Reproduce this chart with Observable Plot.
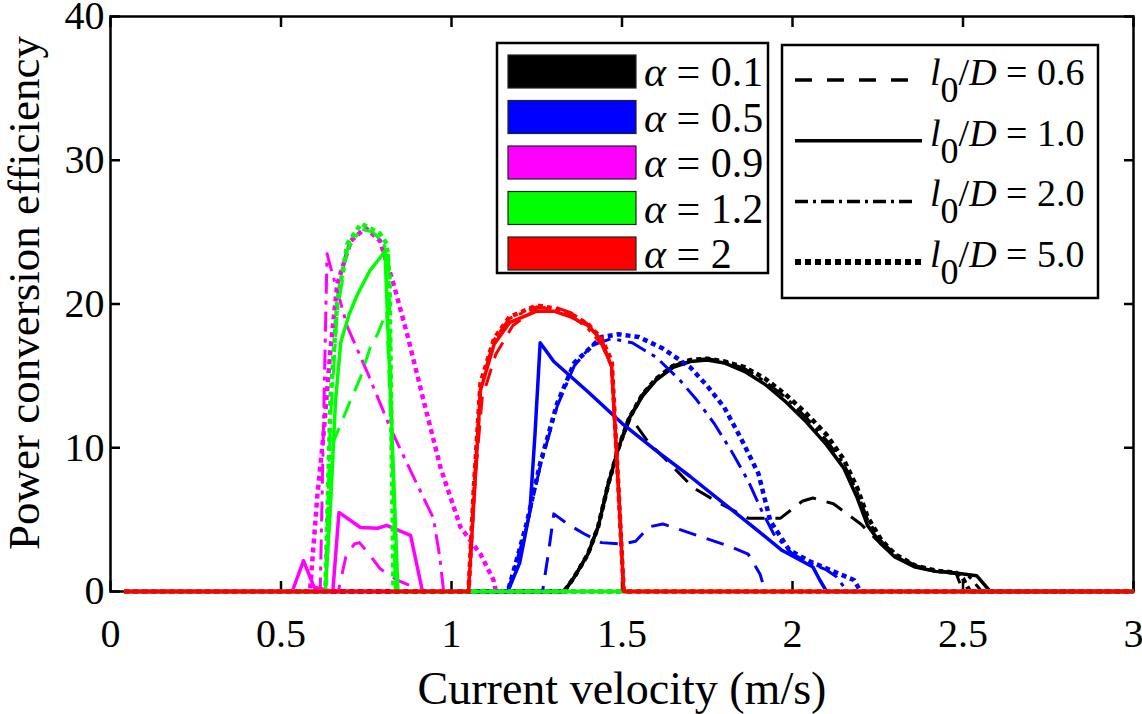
<!DOCTYPE html>
<html><head><meta charset="utf-8">
<script src="https://cdn.jsdelivr.net/npm/d3@7"></script>
<script src="https://cdn.jsdelivr.net/npm/@observablehq/plot@0.6"></script>
<style>body{margin:0;background:#fff}</style>
</head><body><div id="chart"></div>
<script>
// ---------- labels / ticks ----------
const xTicks = [0, 0.5, 1, 1.5, 2, 2.5, 3];
const xTickLabels = ["0", "0.5", "1", "1.5", "2", "2.5", "3"];
const yTicks = [0, 10, 20, 30, 40];
const alphaLabels = ["0.1", "0.5", "0.9", "1.2", "2"];
const alphaColors = ["#000000", "#0000ff", "#ff00ff", "#00ff00", "#ff0000"];
const ratioLabels = ["0.6", "1.0", "2.0", "5.0"];
const xLabel = "Current velocity (m/s)";
const yLabel = "Power conversion efficiency";

// ---------- series: [velocity, efficiency] ----------
// alpha = 0.1 (black)
const black_06 = [[0.04,0],[1.33,0],[1.36,1],[1.40,2.6],[1.43,4.5],[1.46,7.5],[1.49,10.0],[1.525,12.1],[1.58,10.3],[1.64,8.9],[1.71,7.2],[1.79,6.1],[1.87,5.1],[1.965,5.1],[2.03,6.3],[2.06,6.5],[2.12,6.1],[2.20,4.7],[2.26,3.3],[2.30,2.5],[2.36,1.7],[2.42,1.4],[2.48,1.25],[2.50,0],[3.0,0]];
const black_10 = [[0.04,0],[1.33,0],[1.36,1],[1.40,2.6],[1.43,4.5],[1.46,7.5],[1.49,10.0],[1.52,12.0],[1.56,13.6],[1.60,14.7],[1.65,15.6],[1.70,16.0],[1.75,16.1],[1.80,15.9],[1.86,15.3],[1.92,14.4],[1.98,13.2],[2.04,11.8],[2.10,10.2],[2.15,8.6],[2.19,6.5],[2.22,4.6],[2.26,3.3],[2.30,2.4],[2.36,1.7],[2.42,1.4],[2.49,1.25],[2.54,1.1],[2.58,0],[3.0,0]];
const black_20 = [[0.04,0],[1.33,0],[1.36,1],[1.40,2.6],[1.43,4.5],[1.46,7.5],[1.49,10.0],[1.52,12.0],[1.56,13.7],[1.60,14.8],[1.65,15.7],[1.70,16.1],[1.75,16.2],[1.80,16.0],[1.86,15.5],[1.92,14.6],[1.98,13.5],[2.04,12.1],[2.10,10.5],[2.15,8.9],[2.19,6.9],[2.22,5.0],[2.26,3.5],[2.30,2.6],[2.36,1.8],[2.42,1.45],[2.48,1.3],[2.52,1.0],[2.555,0],[3.0,0]];
const black_50 = [[0.04,0],[1.33,0],[1.36,1],[1.40,2.6],[1.43,4.5],[1.46,7.5],[1.49,10.0],[1.52,12.0],[1.56,13.7],[1.60,14.8],[1.65,15.7],[1.70,16.1],[1.75,16.2],[1.80,16.0],[1.86,15.6],[1.92,14.8],[1.98,13.7],[2.04,12.4],[2.10,10.9],[2.15,9.2],[2.19,7.2],[2.22,5.2],[2.26,3.6],[2.30,2.6],[2.36,1.8],[2.42,1.45],[2.48,1.3],[2.50,0.9],[2.52,0],[3.0,0]];
// alpha = 0.5 (blue)
const blue_06 = [[0.04,0],[1.267,0],[1.285,2.8],[1.30,5.4],[1.34,4.7],[1.39,4.0],[1.44,3.4],[1.50,3.3],[1.54,3.5],[1.58,4.5],[1.62,4.7],[1.67,4.3],[1.72,3.9],[1.77,3.5],[1.82,3.1],[1.87,2.6],[1.89,1.8],[1.905,1.2],[1.92,0],[3.0,0]];
const blue_10 = [[0.04,0],[1.165,0],[1.20,2.0],[1.23,5.6],[1.245,11],[1.26,17.3],[1.30,16.0],[1.40,13.9],[1.50,11.7],[1.60,9.8],[1.70,8.0],[1.80,6.1],[1.90,4.2],[1.97,2.85],[2.06,1.7],[2.08,0.8],[2.10,0],[3.0,0]];
const blue_20 = [[0.04,0],[1.165,0],[1.19,2.0],[1.22,4.5],[1.26,8.7],[1.31,12.9],[1.36,15.7],[1.41,17.1],[1.47,17.6],[1.53,17.3],[1.60,16.3],[1.67,14.7],[1.72,13.3],[1.77,11.7],[1.82,9.8],[1.87,7.7],[1.91,5.6],[1.945,4.0],[2.0,2.6],[2.05,2.0],[2.10,1.5],[2.13,1.0],[2.16,0],[3.0,0]];
const blue_50 = [[0.04,0],[1.165,0],[1.19,2.1],[1.22,4.7],[1.26,8.9],[1.31,13.1],[1.36,15.9],[1.44,17.7],[1.49,17.9],[1.55,17.7],[1.62,16.9],[1.70,15.6],[1.75,14.3],[1.80,12.8],[1.85,10.6],[1.90,8.2],[1.935,4.9],[1.99,2.9],[2.05,2.1],[2.11,1.5],[2.15,1.1],[2.18,0.8],[2.20,0],[3.0,0]];
// alpha = 0.9 (magenta)
const magenta_06 = [[0.04,0],[0.668,0],[0.69,2.4],[0.715,3.3],[0.73,3.4],[0.755,2.7],[0.79,1.6],[0.84,0.8],[0.90,0.2],[0.93,0],[3.0,0]];
const magenta_10 = [[0.04,0],[0.533,0],[0.566,2.15],[0.597,0.3],[0.652,0],[0.67,5.5],[0.733,4.45],[0.783,4.4],[0.81,4.6],[0.88,3.9],[0.915,0],[3.0,0]];
const magenta_20 = [[0.04,0],[0.615,0],[0.625,12],[0.635,23.5],[0.645,22.6],[0.695,18.4],[0.754,15.2],[0.82,11.4],[0.89,7.9],[0.947,5.1],[0.965,2.5],[0.977,0],[3.0,0]];
const magenta_50 = [[0.04,0],[0.585,0],[0.607,6.8],[0.625,11],[0.645,16.8],[0.665,21.4],[0.705,24.4],[0.748,25.3],[0.79,24.4],[0.83,21.4],[0.87,17.9],[0.918,13.3],[0.968,8.6],[1.026,4.5],[1.085,2.6],[1.123,0.8],[1.13,0],[3.0,0]];
// alpha = 1.2 (green)
const green_06 = [[0.04,0],[0.63,0],[0.64,4],[0.655,10.5],[0.704,13.3],[0.733,14.9],[0.762,17.0],[0.783,17.9],[0.81,19.5],[0.84,0],[3.0,0]];
const green_10 = [[0.04,0],[0.63,0],[0.645,6],[0.66,13.3],[0.675,17.3],[0.70,19.3],[0.725,20.7],[0.76,22.3],[0.79,23.2],[0.805,23.7],[0.843,0],[3.0,0]];
const green_20 = [[0.04,0],[0.63,0],[0.645,12],[0.665,19.5],[0.695,23.8],[0.735,25.2],[0.77,25.0],[0.80,24.2],[0.815,23.5],[0.835,0],[3.0,0]];
const green_50 = [[0.04,0],[0.63,0],[0.645,13.3],[0.665,20.2],[0.695,24.2],[0.735,25.6],[0.79,24.9],[0.81,24.2],[0.818,22],[0.83,0],[3.0,0]];
// alpha = 2 (red)
const red_06 = [[0.04,0],[1.05,0],[1.07,8],[1.09,13.5],[1.13,16.5],[1.18,18.5],[1.25,19.7],[1.30,19.8],[1.35,19.4],[1.40,18.6],[1.44,17.4],[1.47,15.5],[1.49,7],[1.505,0],[3.0,0]];
const red_10 = [[0.04,0],[1.05,0],[1.065,6],[1.085,14.0],[1.125,17.2],[1.17,18.7],[1.25,19.5],[1.30,19.5],[1.35,19.1],[1.40,18.5],[1.44,17.5],[1.47,15.6],[1.49,7],[1.505,0],[3.0,0]];
const red_20 = [[0.04,0],[1.05,0],[1.065,7],[1.085,14.3],[1.125,17.5],[1.17,19.0],[1.25,19.8],[1.30,19.6],[1.35,19.2],[1.40,18.3],[1.44,17.2],[1.47,15.6],[1.49,7],[1.505,0],[3.0,0]];
const red_50 = [[0.04,0],[1.05,0],[1.065,7],[1.085,14.5],[1.125,17.6],[1.17,19.1],[1.25,19.9],[1.30,19.7],[1.35,19.3],[1.40,18.6],[1.44,17.6],[1.47,16.0],[1.49,7],[1.505,0],[3.0,0]];

// ---------- styles ----------
const ratioDash = ["18,11", null, "20,7,4,7", "5,4"];
const ratioWidth = [3, 3.5, 3, 4.5];

const seriesList = [
  [0, 1, black_10], [0, 0, black_06], [0, 2, black_20], [0, 3, black_50],
  [1, 1, blue_10], [1, 0, blue_06], [1, 2, blue_20], [1, 3, blue_50],
  [2, 1, magenta_10], [2, 0, magenta_06], [2, 2, magenta_20], [2, 3, magenta_50],
  [3, 1, green_10], [3, 0, green_06], [3, 2, green_20], [3, 3, green_50],
  [4, 0, red_06], [4, 2, red_20], [4, 3, red_50], [4, 1, red_10]
];

const lineMarks = seriesList.map(([a, r, data]) => Plot.line(data, {
  x: d => d[0], y: d => d[1],
  stroke: alphaColors[a],
  strokeWidth: ratioWidth[r],
  strokeDasharray: ratioDash[r] ?? undefined,
  strokeLinecap: "butt",
  strokeLinejoin: "round"
}));

const FONT = "'Liberation Serif', 'Times New Roman', serif";
const chart = Plot.plot({
  width: 1142, height: 714,
  marginLeft: 110, marginRight: 9, marginTop: 16, marginBottom: 123,
  style: {fontFamily: FONT, fontSize: "40px", background: "white", color: "black"},
  x: {domain: [0, 3]},
  y: {domain: [0, 40]},
  marks: [
    Plot.frame({stroke: "black", strokeWidth: 2.5}),
    Plot.axisX(xTicks, {anchor: "bottom", tickSize: 0, tickPadding: 27, label: null, fontSize: 40,
      tickFormat: d => xTickLabels[xTicks.indexOf(d)]}),
    Plot.axisX(xTicks, {anchor: "bottom", tickSize: -10, strokeWidth: 2.5, tickFormat: () => "", label: null}),
    Plot.axisX(xTicks, {anchor: "top", tickSize: -10, strokeWidth: 2.5, tickFormat: () => "", label: null}),
    Plot.axisY(yTicks, {anchor: "left", tickSize: 0, tickPadding: 6, label: null, fontSize: 40}),
    Plot.axisY(yTicks, {anchor: "left", tickSize: -10, strokeWidth: 2.5, tickFormat: () => "", label: null}),
    Plot.axisY(yTicks, {anchor: "right", tickSize: -10, strokeWidth: 2.5, tickFormat: () => "", label: null}),
    Plot.text([xLabel], {frameAnchor: "bottom", dy: 98, fontSize: 46, lineAnchor: "middle"}),
    ...lineMarks
  ]
});
document.getElementById("chart").appendChild(chart);

const svg = d3.select(chart);
// y-axis title (rotated)
svg.append("text")
  .attr("transform", "translate(39,293) rotate(-90)")
  .attr("text-anchor", "middle")
  .attr("font-family", FONT).attr("font-size", 45)
  .attr("fill", "black")
  .text(yLabel);

// ---------- legends ----------
const g1 = svg.append("g").attr("font-family", FONT).attr("text-anchor", "start");
g1.append("rect").attr("x", 497).attr("y", 43).attr("width", 271).attr("height", 230)
  .attr("fill", "white").attr("stroke", "black").attr("stroke-width", 2.5);
alphaLabels.forEach((lab, i) => {
  const y = 55 + i * 45.5;
  g1.append("rect").attr("x", 508).attr("y", y).attr("width", 128).attr("height", 33)
    .attr("fill", alphaColors[i]).attr("stroke", "#222").attr("stroke-width", 1.2);
  const t = g1.append("text").attr("x", 644).attr("y", y + 31).attr("font-size", 42)
    .attr("text-anchor", "start").attr("fill", "black");
  t.append("tspan").attr("font-style", "italic").text("α");
  t.append("tspan").text(" = " + lab);
});

const g2 = svg.append("g").attr("font-family", FONT).attr("text-anchor", "start");
g2.append("rect").attr("x", 782).attr("y", 45).attr("width", 316).attr("height", 253)
  .attr("fill", "white").attr("stroke", "black").attr("stroke-width", 2.5);
const legDash = ["17,15", null, "13,5,3,5", "6,4"];
const legEnd = [908, 922, 917, 922];
ratioLabels.forEach((lab, i) => {
  const ly = 80 + i * 60.7;
  const ln = g2.append("line").attr("x1", 795).attr("x2", legEnd[i]).attr("y1", ly).attr("y2", ly)
    .attr("stroke", "black").attr("stroke-width", i === 3 ? 6 : 3.5);
  if (legDash[i]) ln.attr("stroke-dasharray", legDash[i]);
  const t = g2.append("text").attr("x", 930).attr("y", ly + 5).attr("font-size", 38)
    .attr("text-anchor", "start").attr("fill", "black");
  t.append("tspan").attr("font-style", "italic").text("l");
  t.append("tspan").attr("dy", 17).attr("font-size", 36).text("0");
  t.append("tspan").attr("dy", -17).text("/");
  t.append("tspan").attr("font-style", "italic").text("D");
  t.append("tspan").text(" = " + lab);
});
</script>
</body></html>
